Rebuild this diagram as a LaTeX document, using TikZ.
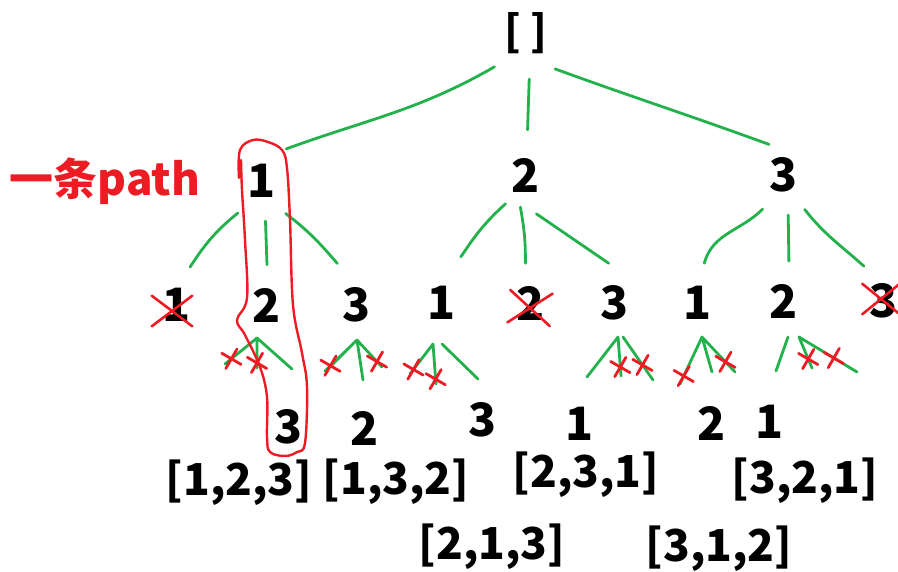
\documentclass[tikz,border=0pt]{standalone}
\usepackage{fontspec}
\setmainfont{Noto Sans CJK SC}
\usetikzlibrary{positioning,shapes.misc}
\definecolor{pgreen}{RGB}{34,177,76}
\definecolor{pred}{RGB}{237,28,36}
\tikzset{
  num/.style={circle,inner sep=0pt,minimum size=80pt,font=\bfseries\fontsize{46}{46}\selectfont},
  res/.style={inner sep=0pt,font=\bfseries\fontsize{44}{44}\selectfont},
  gline/.style={draw,color=pgreen,line width=2.8pt,line cap=round},
  redx/.style={cross out,draw=pred,line width=2.8pt,line cap=round,minimum size=13pt,inner sep=0pt,rotate=15},
  bigredx/.style={cross out,draw=pred,line width=2.6pt,line cap=round,inner sep=0pt,minimum width=38pt,minimum height=28pt},
}

\begin{document}
\begin{tikzpicture}[x=1pt,y=-1pt,on grid,node distance=120pt]
\useasboundingbox (0,0) rectangle (898,571);
\node[num,minimum size=92pt,font=\bfseries\fontsize{42}{42}\selectfont] (r) at (526,33) {[ ]};
\node[num] (a1) [below left=148pt and 264pt of r] {1};
\node[num] (a2) [below=142pt of r] {2};
\node[num] (a3) [below right=142pt and 258pt of r] {3};
\node[res,text=pred] (lbl) [left=157pt of a1] {一条path};
\node[num] (b1) [below left=124pt and 85pt of a1] {1};
\node[num] (b2) [below right=124pt and 5pt of a1] {2};
\node[num] (b3) [below right=124pt and 95pt of a1] {3};
\node[num] (b4) [below left=128pt and 84pt of a2] {1};
\node[num] (b5) [below right=128pt and 5pt of a2] {2};
\node[num] (b6) [below right=128pt and 89pt of a2] {3};
\node[num] (b7) [below left=128pt and 86pt of a3] {1};
\node[num] (b8) [below=126pt of a3] {2};
\node[num] (b9) [below right=126pt and 100pt of a3] {3};
\node[num] (c1) [below right=122pt and 22pt of b2] {3};
\node[num] (c2) [below right=123pt and 8pt of b3] {2};
\node[num] (c3) [below right=117pt and 41pt of b4] {3};
\node[num] (c4) [below left=121pt and 35pt of b6] {1};
\node[num] (c5) [below right=120pt and 14pt of b7] {2};
\node[num] (c6) [below left=121pt and 14pt of b8] {1};
\node[res] (d1) [below left=56pt and 50pt of c1] {[1,2,3]};
\node[res] (d2) [below right=54pt and 31pt of c2] {[1,3,2]};
\node[res] (d3) [below right=127pt and 9pt of c3] {[2,1,3]};
\node[res] (d4) [below right=51pt and 6pt of c4] {[2,3,1]};
\node[res] (d5) [below right=126pt and 7pt of c5] {[3,1,2]};
\node[res] (d6) [below right=59pt and 35pt of c6] {[3,2,1]};
\path[gline]
(r.-133) edge[out=-150,in=20] (a1.53)
(r.-86) edge[shorten >=5pt] (a2.88)
(r.-51) edge[out=-20,in=160,shorten >=-8pt] (a3.124)
(a1.-127) edge[out=-141,in=57] (b1.71)
(a1.-85) edge (b2.90)
(a1.-54) edge[out=-37,in=131,shorten >=6pt] (b3.113)
(a2.-127) edge[out=-138,in=55,shorten <=-5pt,shorten >=10pt] (b4.71)
(a2.-96) edge[out=-80,in=90,shorten <=-8pt] (b5.98)
(a2.-75) edge (b6.99)
(a3.-122) edge[out=-135,in=75] (b7.81)
(a3.-84) edge (b8.83)
(a3.-59) edge[out=-52,in=138] (b9.120)
;
% small branches under the second row
\coordinate (f2) at ([shift={(-10,33)}]b2.center);
\coordinate (f3) at ([shift={(0,35)}]b3.center);
\coordinate (f4) at ([shift={(-9,41)}]b4.center);
\coordinate (f6) at ([shift={(3,34)}]b6.center);
\coordinate (f7) at ([shift={(4,34)}]b7.center);
\coordinate (f8) at ([shift={(15,36)}]b8.center);
\draw[gline] (f2) -- ++(-32,26) node[redx,pos=.8] (t1) {}
  (f2) -- ++(0,30) node[redx,pos=.83] (t2) {}
  (f2) -- ++(35,31);
\draw[gline] (f3) -- ++(-32,31) node[redx,pos=.83] (t3) {}
  (f3) -- ++(-25,25) (f3) -- ++(6,40)
  (f3) -- ++(25,27) node[redx,pos=.8] (t4) {};
\draw[gline] (f4) -- ++(-23,30) node[redx,pos=.85] (t5) {}
  (f4) -- ++(3,40) node[redx,pos=.88] (t6) {}
  ([xshift=9pt]f4) -- ++(36,35);
\draw[gline] (f6) -- ++(-31,40)
  (f6) -- ++(3,39) node[redx,pos=.77] (t7) {}
  ([xshift=5pt]f6) -- ++(30,43) node[redx,pos=.65] (t8) {};
\draw[gline] (f7) -- ++(-22,47) node[redx,pos=.83] (t9) {}
  (f7) -- ++(10,35)
  (f7) -- ++(33,35) node[redx,pos=.71] (t10) {};
\draw[gline] ([xshift=-11pt]f8) -- ++(-12,34)
  (f8) -- ++(13,31) node[redx,pos=.71] (t11) {}
  (f8) -- ++(58,35) node[redx,pos=.6] (t12) {};
% crossed out numbers
\node[bigredx] (x1) at ([shift={(-5,6)}]b1.center) {};
\node[bigredx,rotate=-5,minimum width=40pt,minimum height=30pt] (x5) at ([shift={(-1,5)}]b5.center) {};
\node[bigredx,minimum width=35pt] (x9) at ([shift={(-3,-2)}]b9.center) {};
% the path
\draw[pred,line width=2.4pt,line cap=round] plot[smooth,tension=0.6] coordinates {
  (239,178) (240,150) (253,140) (268,142) (282,150) (287,168) (290,220)
  (293,305) (302,353) (307,387) (305,443) (297,452) (285,456) (270,452)
  (267,437) (267,397) (260,367) (245,335) (237,320) (247,298) (245,240)
  (242,190) (241,160)};
\end{tikzpicture}
\end{document}
